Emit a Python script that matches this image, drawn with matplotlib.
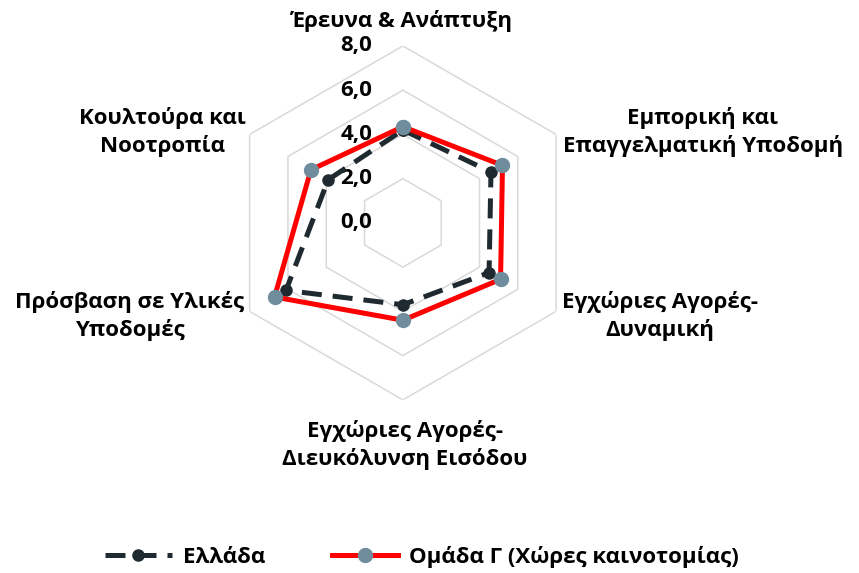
import numpy as np
import matplotlib
matplotlib.use('Agg')
import matplotlib.pyplot as plt

# Category axes, clockwise from the top
categories = ['Έρευνα & Ανάπτυξη',
              'Εμπορική και\nΕπαγγελματική Υποδομή',
              'Εγχώριες Αγορές-\nΔυναμική',
              'Εγχώριες Αγορές-\nΔιευκόλυνση Εισόδου',
              'Πρόσβαση σε Υλικές\nΥποδομές',
              'Κουλτούρα και\nΝοοτροπία']
greece = [4.2, 4.6, 4.5, 3.7, 6.1, 3.9]
group_c = [4.35, 5.2, 5.1, 4.4, 6.7, 4.8]
ring_values = [2, 4, 6, 8]
tick_values = [0, 2, 4, 6, 8]
tick_labels = ['0,0', '2,0', '4,0', '6,0', '8,0']
series_names = ['Ελλάδα', 'Ομάδα Γ (Χώρες καινοτομίας)']

plt.rcParams['font.family'] = ['Open Sans', 'DejaVu Sans']
plt.rcParams['font.weight'] = 'bold'

fig = plt.figure(figsize=(8.59, 5.73), dpi=100)
ax = fig.add_axes([0.263, 0.302, 0.412, 0.618], projection='polar')
ax.set_theta_zero_location('N')
ax.set_theta_direction(-1)
ax.set_ylim(0, 8)
ax.grid(False)
ax.spines['polar'].set_visible(False)
ax.set_xticks([])
ax.set_yticks([])
ax.patch.set_alpha(0)

n = len(categories)
angles = np.linspace(0, 2 * np.pi, n, endpoint=False)
closed = np.append(angles, angles[0])

# hexagonal grid
for r in ring_values:
    ax.plot(closed, [r] * (n + 1), color='#d9d9d9', lw=1.1, zorder=1)

# value labels along the top spoke
for v, lab in zip(tick_values, tick_labels):
    ax.annotate(lab, xy=(0, v), xytext=(-22, 0), textcoords='offset points',
                ha='right', va='center', fontsize=16, fontweight='bold',
                color='black', annotation_clip=False)

g_vals = greece + greece[:1]
c_vals = group_c + group_c[:1]
ax.plot(closed, g_vals, color='#1f2a30', lw=3.6, dashes=(4, 2.2),
        marker='o', markersize=8, markerfacecolor='#1f2a30',
        markeredgecolor='#1f2a30', label=series_names[0], zorder=3)
ax.plot(closed, c_vals, color='#ff0000', lw=3.6,
        marker='o', markersize=10, markerfacecolor='#6f8d9c',
        markeredgecolor='#6f8d9c', label=series_names[1], zorder=4)

# category labels, positioned in figure pixels (from top-left)
label_pos = [(401, 21), (703, 132), (660, 316), (405, 445), (130, 316), (162, 132)]
for lab, (px, py) in zip(categories, label_pos):
    fig.text(px / 859, 1 - py / 573, lab, ha='center', va='center',
             fontsize=16, fontweight='bold', linespacing=1.3)

leg = fig.legend(loc='center', bbox_to_anchor=(422 / 859, 1 - 557 / 573), ncol=2,
                 frameon=False, fontsize=16, handlelength=3.0,
                 columnspacing=3.0, handletextpad=0.5)
for t in leg.get_texts():
    t.set_fontweight('bold')

fig.savefig('out.png', dpi=100)
